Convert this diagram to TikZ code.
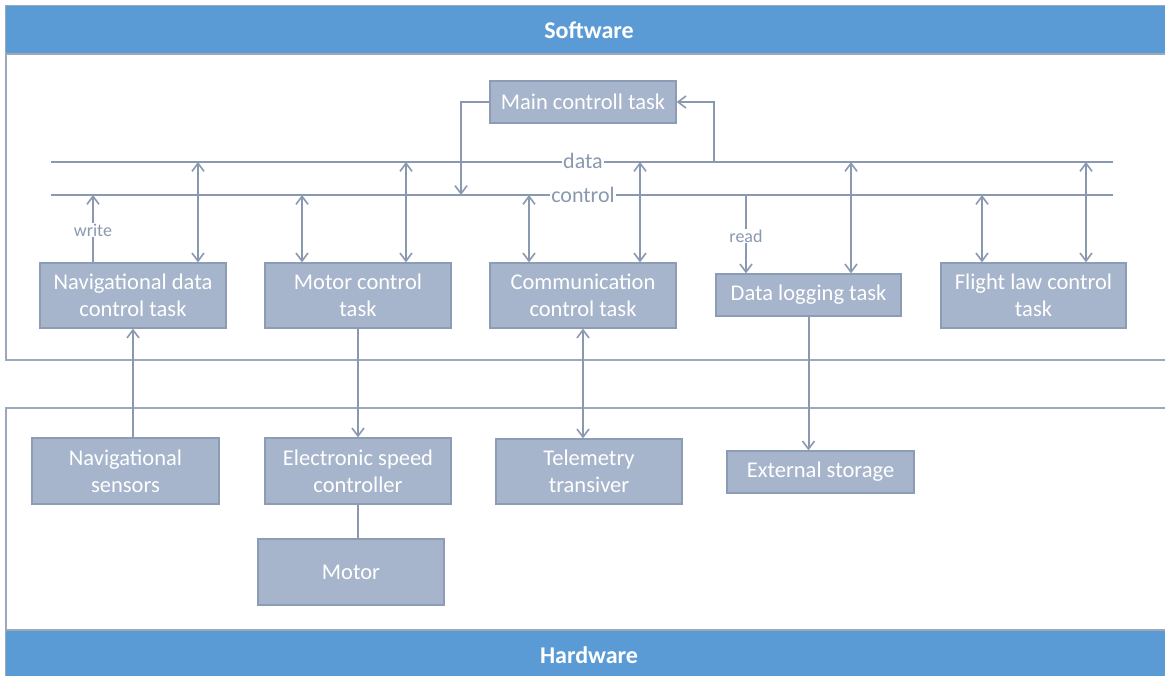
\documentclass[tikz,border=0pt]{standalone}
\usepackage{fontspec}
\setmainfont{Carlito}
\usetikzlibrary{arrows.meta}
\definecolor{hdr}{HTML}{5B9BD5}
\definecolor{boxfill}{HTML}{A6B5CB}
\definecolor{boxline}{HTML}{8C9CB4}
\definecolor{conn}{HTML}{8A99AF}
\definecolor{framec}{HTML}{9CA9BC}
\begin{document}
\begin{tikzpicture}[x=1pt,y=-1pt,
  >={Straight Barb[length=8pt,width=12pt,line width=1.6pt]},
  tbox/.style={draw=boxline, fill=boxfill, line width=1.3pt, text=white, align=center, inner sep=0pt, font=\fontsize{22.5}{27}\selectfont},
  bus/.style={draw=conn, line width=2.8pt},
  link/.style={draw=conn, line width=2pt},
  buslabel/.style={fill=white, text=conn, inner sep=1pt, font=\fontsize{22}{24}\selectfont},
  smalllabel/.style={fill=white, text=conn, inner sep=1pt, font=\fontsize{18}{20}\selectfont},
  hdrtext/.style={text=white, font=\fontsize{24}{26}\selectfont\bfseries},
  framebox/.style={draw=framec, line width=1.1pt}]
\useasboundingbox (0,0) rectangle (1165,676);
\clip (0,0) rectangle (1165,676);
% frames
\fill[white] (0,0) rectangle (1165,676);
\draw[framebox] (6,6) rectangle (1180,360);
\fill[hdr] (6,6) rectangle (1180,54);
\draw[framebox] (6,54) -- (1180,54);
\node[hdrtext] (sw) at (589,30) {Software};
\draw[framebox] (6,408) rectangle (1180,700);
\fill[hdr] (6,630) rectangle (1180,700);
\draw[framebox] (6,630) -- (1180,630);
\node[hdrtext] (hw) at (589,655) {Hardware};
% buses
\coordinate (dL) at (51,162); \coordinate (dR) at (1113,162);
\coordinate (cL) at (51,195); \coordinate (cR) at (1113,195);
\draw[bus] (dL) -- (dR);
\draw[bus] (cL) -- (cR);
\node[buslabel] (dlab) at (583,161) {data};
\node[buslabel] (clab) at (583,195) {control};
% software tasks
\node[tbox, minimum width=186pt, minimum height=42pt] (main) at (583,102) {Main controll task};
\node[tbox, minimum width=186pt, minimum height=65pt] (nav) at (133,295.5) {Navigational data\\control task};
\node[tbox, minimum width=186pt, minimum height=65pt] (motc) at (358,295.5) {Motor control\\task};
\node[tbox, minimum width=186pt, minimum height=65pt] (comm) at (583,295.5) {Communication\\control task};
\node[tbox, minimum width=185pt, minimum height=42pt] (dlog) at (808.5,295) {Data logging task};
\node[tbox, minimum width=185pt, minimum height=65pt] (flight) at (1033.5,295.5) {Flight law control\\task};
% hardware
\node[tbox, minimum width=187pt, minimum height=66pt] (navs) at (125.5,471) {Navigational\\sensors};
\node[tbox, minimum width=186pt, minimum height=66pt] (esc) at (358,471) {Electronic speed\\controller};
\node[tbox, minimum width=186pt, minimum height=66pt] (motor) at (351,572) {Motor};
\node[tbox, minimum width=186pt, minimum height=65pt] (tele) at (589,471.5) {Telemetry\\transiver};
\node[tbox, minimum width=187pt, minimum height=42pt] (ext) at (820.5,472) {External storage};
% bus taps
\coordinate (wr) at (93,195);
\coordinate (t1) at (198,162);
\coordinate (t2) at (302,195);
\coordinate (t3) at (406,162);
\coordinate (t4) at (529,195);
\coordinate (t5) at (640,162);
\coordinate (rd) at (746,195);
\coordinate (t6) at (851,162);
\coordinate (t7) at (982,195);
\coordinate (t8) at (1086,162);
\coordinate (mL) at (461,195);
\coordinate (mR) at (714,162);
% main control connectors
\draw[link,->] (main.west) -| (mL);
\draw[link,->] (mR) |- (main.east);
% task connectors
\draw[link,->] (wr |- nav.north) -- (wr);
\node[smalllabel] (wlab) at (93,230) {write};
\draw[link,<->] (t1) -- (t1 |- nav.north);
\draw[link,<->] (t2) -- (t2 |- motc.north);
\draw[link,<->] (t3) -- (t3 |- motc.north);
\draw[link,<->] (t4) -- (t4 |- comm.north);
\draw[link,<->] (t5) -- (t5 |- comm.north);
\draw[link,->] (rd) -- (rd |- dlog.north);
\node[smalllabel] (rlab) at (746,236) {read};
\draw[link,<->] (t6) -- (t6 |- dlog.north);
\draw[link,<->] (t7) -- (t7 |- flight.north);
\draw[link,<->] (t8) -- (t8 |- flight.north);
% hardware connectors
\draw[link,->] (navs.north -| nav.south) -- (nav.south);
\draw[link,->] (motc.south) -- (esc.north);
\draw[link] (esc.south) -- (esc.south |- motor.north);
\draw[link,<->] (comm.south) -- (comm.south |- tele.north);
\draw[link,->] (dlog.south) -- (dlog.south |- ext.north);
\end{tikzpicture}
\end{document}
